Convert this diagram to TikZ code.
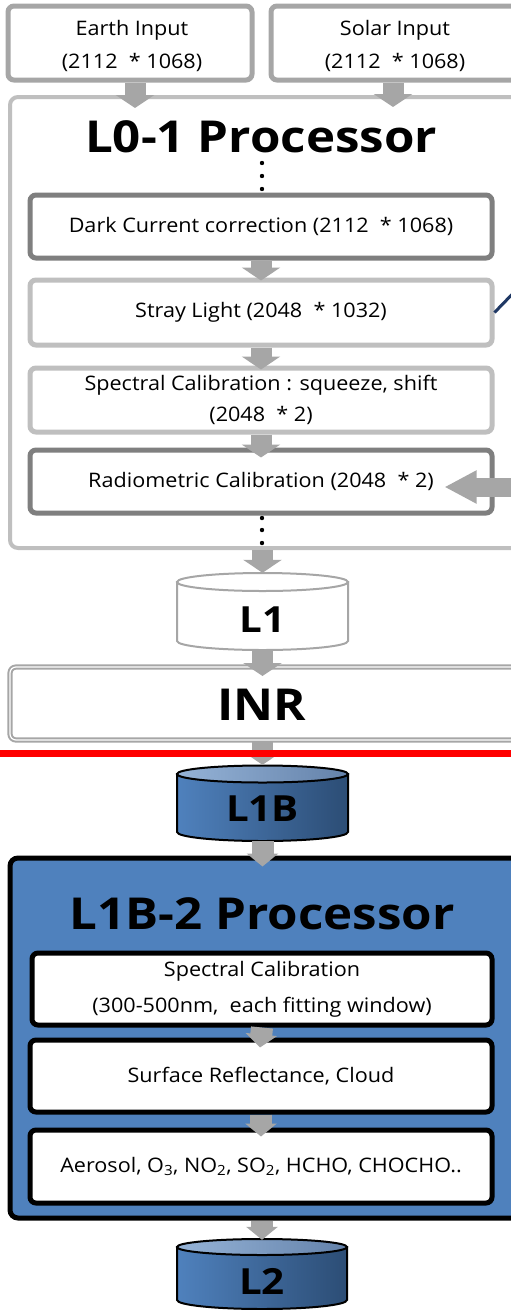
\documentclass[tikz,border=0pt]{standalone}
\usepackage{fontspec}
\setmainfont{Open Sans}[FakeStretch=1.08, BoldFeatures={FakeStretch=1.12}]
\usetikzlibrary{arrows.meta,positioning}
\definecolor{framegray}{RGB}{191,191,191}
\definecolor{edgegray}{RGB}{166,166,166}
\definecolor{stepgray}{RGB}{127,127,127}
\definecolor{arrowgray}{RGB}{166,166,166}
\definecolor{procblue}{RGB}{79,129,189}
\definecolor{deepblue}{RGB}{44,77,117}
\definecolor{paleblue}{RGB}{149,179,215}
\definecolor{dimblue}{RGB}{100,130,170}
\definecolor{navyline}{RGB}{31,56,100}
\tikzset{
  every node/.style={font=\fontsize{20}{33}\selectfont},
  inbox/.style={draw=edgegray, line width=5pt, rounded corners=6pt, fill=white,
    align=center, inner sep=0pt},
  frame/.style={draw=framegray, line width=4pt, rounded corners=8pt, fill=white, inner sep=0pt},
  lightstep/.style={draw=framegray, line width=5pt, rounded corners=6pt, fill=white,
    align=center, inner sep=0pt, minimum width=462pt},
  darkstep/.style={lightstep, draw=stepgray},
  bluestep/.style={lightstep, draw=black},
  title/.style={font=\fontsize{44}{50}\selectfont\bfseries, inner sep=0pt},
  store/.style={inner sep=0pt, minimum width=171pt},
  storetext/.style={font=\fontsize{36}{40}\selectfont\bfseries, inner sep=0pt},
  grayarrow/.style={draw=arrowgray, line width=21pt, -{Triangle[length=13pt, width=38pt]}},
  bluearrow/.style={grayarrow, line width=22pt, -{Triangle[length=13pt, width=31pt]}}
}

\begin{document}
\begin{tikzpicture}[x=1pt, y=-1pt]
  \useasboundingbox (0,0) rectangle (511,1310);

  % inputs
  \node[inbox, minimum width=244pt, minimum height=74pt] (earth) at (130,43) {};
  \node (earthtext) at (132,46) [align=center] {Earth Input\\(2112 \ * 1068)};
  \node[inbox, minimum width=250pt, minimum height=74pt] (solar) at (396,43) {};
  \node (solartext) at (395,46) [align=center] {Solar Input\\(2112 \ * 1068)};

  % L0-1 processor
  \node[frame, minimum width=510pt, minimum height=451pt] (l01) at (265,322.5) {};
  \node[title] (l01title) at (261,137) {L0-1 Processor};
  \node[darkstep, minimum height=63pt] (dark) at (261,226.5)
    {Dark Current correction (2112 \ * 1068)};
  \node[lightstep, minimum height=65pt] (stray) at (261,312.5)
    {Stray Light (2048 \ * 1032)};
  \node[lightstep, minimum height=64pt, font=\fontsize{20}{31}\selectfont] (spec) at (261,400)
    {Spectral Calibration : squeeze, shift\\(2048 \ * 2)};
  \node[darkstep, minimum height=63pt] (radio) at (261,481.5)
    {Radiometric Calibration (2048 \ * 2)};
  \foreach \y in {163,176,189,518,530,543} {
    \fill[black] (262,\y) circle (2.2pt);
  }

  % L1 store
  \draw[edgegray, line width=2pt, fill=white] (177,582) -- (177,641)
    arc[start angle=180, end angle=360, x radius=85.5pt, y radius=9pt] -- (348,582) -- cycle;
  \draw[edgegray, line width=2pt, fill=white] (262.5,582) ellipse [x radius=85.5pt, y radius=9pt];
  \node[store, minimum height=77pt] (l1) at (262.5,611.5) {};
  \node[storetext] (l1text) at (262.5,620) {L1};

  % INR
  \node[frame, draw=edgegray, line width=2pt, double=white, double distance=1.2pt,
    rounded corners=6pt, minimum width=510pt, minimum height=73pt] (inr) at (265,703.5) {};
  \node[title] (inrtitle) at (262,705) {INR};

  % L1B store
  \shadedraw[left color=procblue, right color=deepblue, draw=black, line width=2pt]
    (177,774) -- (177,832)
    arc[start angle=180, end angle=360, x radius=85.5pt, y radius=9pt] -- (348,774) -- cycle;
  \shadedraw[left color=paleblue, right color=dimblue, draw=black, line width=2pt]
    (262.5,774) ellipse [x radius=85.5pt, y radius=8.5pt];
  \node[store, minimum height=76pt] (l1b) at (262.5,803) {};
  \node[storetext] (l1btext) at (262.5,809) {L1B};

  % L1B-2 processor
  \node[frame, draw=black, fill=procblue, line width=5pt, minimum width=510pt,
    minimum height=360pt] (l1b2) at (265,1038) {};
  \node[title] (l1b2title) at (262,914) {L1B-2 Processor};
  \node[bluestep, minimum width=460pt, minimum height=72pt, font=\fontsize{20}{36}\selectfont]
    (spec2) at (262,989) {Spectral Calibration\\(300-500nm, \ each fitting window)};
  \node[bluestep, minimum height=72pt] (surf) at (261,1076) {Surface Reflectance, Cloud};
  \node[bluestep, minimum height=73pt] (aero) at (261,1166.5)
    {Aerosol, O\textsubscript{3}, NO\textsubscript{2}, SO\textsubscript{2}, HCHO, CHOCHO..};

  % L2 store
  \shadedraw[left color=procblue, right color=deepblue, draw=black, line width=2pt]
    (177,1247) -- (177,1300)
    arc[start angle=180, end angle=360, x radius=85pt, y radius=9pt] -- (347,1247) -- cycle;
  \shadedraw[left color=paleblue, right color=dimblue, draw=black, line width=2pt]
    (262,1247) ellipse [x radius=85pt, y radius=8pt];
  \node[store, minimum width=170pt, minimum height=72pt] (l2) at (262,1274) {};
  \node[storetext] (l2text) at (262,1281) {L2};

  % flow arrows
  \draw[grayarrow, shorten >=-13pt] ([xshift=5pt]earth.south) -- ([xshift=5pt]earth.south |- l01.north);
  \draw[grayarrow, shorten >=-12pt] ([xshift=-3pt]solar.south) -- ([xshift=-3pt]solar.south |- l01.north);
  \draw[grayarrow, shorten >=-3pt] (dark.south) -- (stray.north);
  \draw[grayarrow, shorten >=-4pt] (stray.south) -- (spec.north);
  \draw[grayarrow, shorten >=-10pt] (spec.south) -- (radio.north);
  \draw[grayarrow] (l01.south -| l1.north) -- (l1.north);
  \draw[grayarrow, shorten >=-10pt] (l1.south) -- (l1.south |- inr.north);
  \draw[grayarrow] (l1.south |- inr.south) -- (l1b.north);
  \draw[bluearrow, shorten >=-11pt] (l1b.south) -- (l1b.south |- l1b2.north);
  \draw[bluearrow, shorten >=-10pt] (spec2.south) -- (surf.north);
  \draw[bluearrow, shorten >=-9pt] (surf.south) -- (aero.north);
  \draw[bluearrow, shorten >=-2pt] (l2.north |- l1b2.south) -- (l2.north);

  % side input into radiometric step
  \coordinate (calin) at (530,487);
  \coordinate (calout) at ([xshift=-50pt]radio.east);
  \draw[grayarrow, line width=19pt, -{Triangle[length=32pt, width=31pt]}] (calin) -- (calout |- calin);

  % link leaving stray light
  \coordinate (straylink) at (525,281);
  \draw[navyline, line width=3pt] (stray.east) -- (straylink);

  % level cut
  \coordinate (cutL) at (0,753.5);
  \coordinate (cutR) at (511,753.5);
  \draw[red, line width=7pt] (cutL) -- (cutR);
\end{tikzpicture}
\end{document}
